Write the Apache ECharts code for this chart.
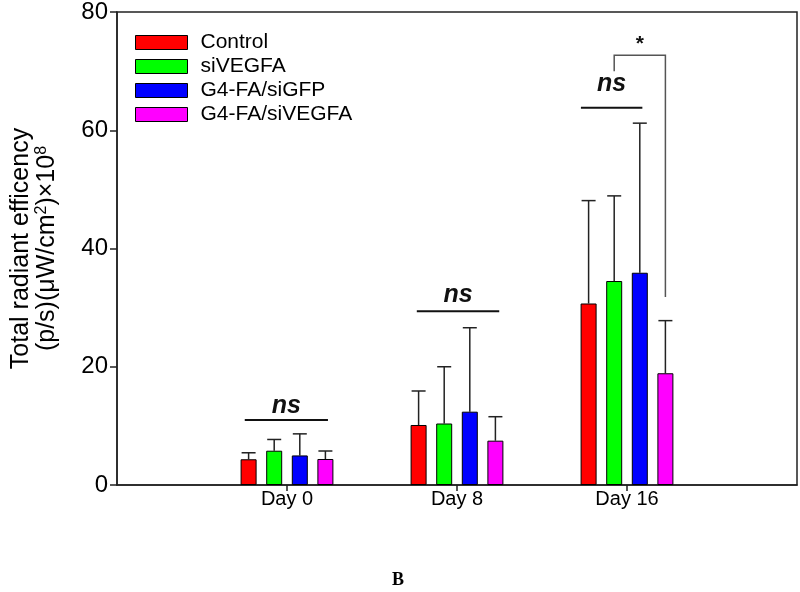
<!DOCTYPE html>
<html>
<head>
<meta charset="utf-8">
<script src="https://cdn.jsdelivr.net/npm/echarts@6/dist/echarts.min.js"></script>
<style>html,body{margin:0;padding:0;background:#fff;}#c{width:800px;height:592px;}</style>
</head>
<body>
<div id="c"></div>
<script>
// ---- data ----
const categories = ['', 'Day 0', 'Day 8', 'Day 16', ''];
const groupNames = ['Control', 'siVEGFA', 'G4-FA/siGFP', 'G4-FA/siVEGFA'];
const controlMean = [4.35, 10.15, 30.7];
const siVEGFAMean = [5.8, 10.4, 34.5];
const siGFPMean = [5.0, 12.4, 35.9];
const g4siVEGFAMean = [4.4, 7.5, 18.9];
const controlSD = [1.1, 5.75, 17.4];
const siVEGFASD = [1.9, 9.6, 14.4];
const siGFPSD = [3.65, 14.2, 25.3];
const g4siVEGFASD = [1.35, 4.05, 8.9];
const yTicks = [0, 20, 40, 60, 80];
// significance annotations: [day index, from slot, to slot, line value, text value, label]
const nsMarks = [
  [1, -0.15, 3.1, 11.0, 13.4, 'ns'],
  [2, -0.07, 3.15, 29.4, 32.1, 'ns'],
  [3, -0.3, 2.1, 63.8, 67.8, 'ns']
];
// bracket: [day index, left slot, right slot, top value, left leg bottom, right leg bottom, star value, label]
const brackets = [
  [3, 1, 3, 72.7, 70.0, 31.8, 74.6, '*']
];

const means = [controlMean, siVEGFAMean, siGFPMean, g4siVEGFAMean];
const sds = [controlSD, siVEGFASD, siGFPSD, g4siVEGFASD];
const colors = ['#ff0000', '#00ff00', '#0000ff', '#ff00ff'];
const BAR_W = 16, BAR_GAP = 0.6;
const SLOT = BAR_W * (1 + BAR_GAP);
const slotOffset = s => (s - 1.5) * SLOT;
const FONT = '"Liberation Sans", Arial, sans-serif';

const chart = echarts.init(document.getElementById('c'), null, {renderer: 'canvas'});

const series = [];
groupNames.forEach((name, g) => {
  series.push({
    name, type: 'bar', barWidth: BAR_W, barGap: (BAR_GAP * 100) + '%',
    itemStyle: {color: colors[g], borderColor: '#000', borderWidth: 1},
    data: ['-'].concat(means[g]).concat(['-']),
    z: 3
  });
});
// error bars (upper only)
groupNames.forEach((name, g) => {
  series.push({
    type: 'custom', silent: true, z: 2,
    data: means[g].map((m, i) => [i + 1, m, sds[g][i]]),
    encode: {x: 0, y: 1},
    renderItem: (params, api) => {
      const c0 = api.coord([api.value(0), api.value(1)]);
      const c1 = api.coord([api.value(0), api.value(1) + api.value(2)]);
      const x = c0[0] + slotOffset(g);
      const st = {stroke: '#222', lineWidth: 1.5};
      return {type: 'group', children: [
        {type: 'line', shape: {x1: x, y1: c0[1], x2: x, y2: c1[1]}, style: st},
        {type: 'line', shape: {x1: x - 7, y1: c1[1], x2: x + 7, y2: c1[1]}, style: st}
      ]};
    }
  });
});
// ns annotations
series.push({
  type: 'custom', silent: true, z: 4,
  data: nsMarks,
  encode: {x: 0, y: 3},
  renderItem: (params, api) => {
    const d = nsMarks[params.dataIndex];
    const base = api.coord([d[0], d[3]]);
    const t = api.coord([d[0], d[4]]);
    const x1 = base[0] + slotOffset(d[1]);
    const x2 = base[0] + slotOffset(d[2]);
    return {type: 'group', children: [
      {type: 'line', shape: {x1, y1: base[1], x2, y2: base[1]}, style: {stroke: '#111', lineWidth: 2}},
      {type: 'text', x: (x1 + x2) / 2, y: t[1], style: {text: d[5], font: 'italic bold 25px ' + FONT, fill: '#111', align: 'center', verticalAlign: 'middle'}}
    ]};
  }
});
// bracket with star
series.push({
  type: 'custom', silent: true, z: 4,
  data: brackets,
  encode: {x: 0, y: 3},
  renderItem: (params, api) => {
    const d = brackets[params.dataIndex];
    const top = api.coord([d[0], d[3]]);
    const lb = api.coord([d[0], d[4]]);
    const rb = api.coord([d[0], d[5]]);
    const st = api.coord([d[0], d[6]]);
    const xl = top[0] + slotOffset(d[1]);
    const xr = top[0] + slotOffset(d[2]);
    return {type: 'group', children: [
      {type: 'polyline', shape: {points: [[xl, lb[1]], [xl, top[1]], [xr, top[1]], [xr, rb[1]]]}, style: {stroke: '#555', lineWidth: 1.5, fill: null}},
      {type: 'text', x: (xl + xr) / 2, y: st[1], style: {text: d[7], font: 'bold 21px ' + FONT, fill: '#111', align: 'center', verticalAlign: 'middle'}}
    ]};
  }
});

const option = {
  backgroundColor: '#fff',
  animation: false,
  textStyle: {fontFamily: FONT},
  title: {
    text: 'B', left: 387, top: 566,
    textStyle: {fontFamily: '"Liberation Serif", "DejaVu Serif", serif', fontWeight: 'bold', fontSize: 18, color: '#000'}
  },
  legend: {
    orient: 'vertical', left: 130, top: 27,
    itemWidth: 52, itemHeight: 14, itemGap: 3,
    data: groupNames,
    icon: 'rect',
    itemStyle: {borderColor: '#000', borderWidth: 1},
    textStyle: {fontSize: 21, color: '#000', fontFamily: FONT, padding: [0, 0, 0, 8]}
  },
  grid: {
    left: 117, right: 2, top: 7, bottom: 107,
    show: true, borderColor: '#222', borderWidth: 1.5, backgroundColor: 'transparent'
  },
  xAxis: {
    type: 'category', data: categories, boundaryGap: false,
    axisLine: {lineStyle: {color: '#222', width: 1.5}},
    axisTick: {show: true, length: 6, inside: false, interval: (i) => i >= 1 && i <= 3, lineStyle: {color: '#222', width: 1.5}},
    axisLabel: {color: '#000', fontSize: 20, margin: 4, interval: 0, fontFamily: FONT},
    splitLine: {show: false}
  },
  yAxis: {
    type: 'value', min: yTicks[0], max: yTicks[yTicks.length - 1], interval: yTicks[1] - yTicks[0],
    axisLine: {show: true, lineStyle: {color: '#222', width: 1.5}},
    axisTick: {show: true, length: 7, lineStyle: {color: '#222', width: 1.5}},
    axisLabel: {color: '#000', fontSize: 24, margin: 9, fontFamily: FONT},
    splitLine: {show: false},
    name: '{a|Total radiant efficency}\n{a|(p/s)(μW/cm}{s|2}{a|)×10}{s|8}',
    nameLocation: 'middle', nameRotate: 90, nameGap: 57,
    nameTextStyle: {
      color: '#000', fontFamily: FONT,
      rich: {
        a: {fontSize: 25, lineHeight: 26, color: '#000', fontFamily: FONT, verticalAlign: 'bottom'},
        s: {fontSize: 16, lineHeight: 26, color: '#000', fontFamily: FONT, verticalAlign: 'top'}
      }
    }
  },
  series
};
chart.setOption(option);
</script>
</body>
</html>
